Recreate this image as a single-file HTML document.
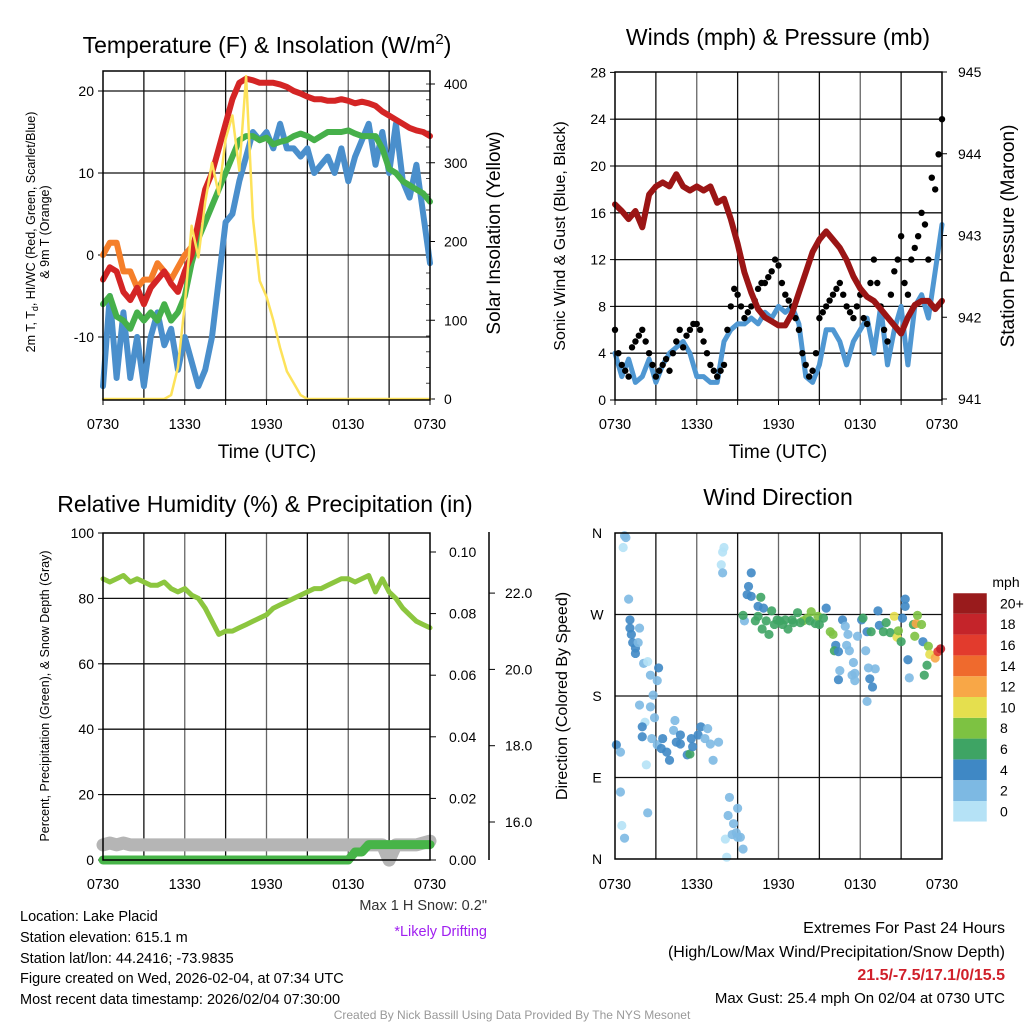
<!DOCTYPE html>
<html><head><meta charset="utf-8"><style>
html,body{margin:0;padding:0;background:#fff;}
svg{display:block;font-family:"Liberation Sans",Arial,sans-serif;}
</style></head><body>
<svg id="s" width="1024" height="1024" viewBox="0 0 1024 1024">
<g id="g1"></g>
<g id="g2"></g>
<g id="g3"></g>
<g id="g4"></g>
<g fill="#000">
<text x="267" y="53" font-size="23" text-anchor="middle">Temperature (F) &amp; Insolation (W/m<tspan dy="-9" font-size="15">2</tspan><tspan dy="9">)</tspan></text>
<text x="778" y="45" font-size="23" text-anchor="middle">Winds (mph) &amp; Pressure (mb)</text>
<text x="265" y="512" font-size="23" text-anchor="middle">Relative Humidity (%) &amp; Precipitation (in)</text>
<text x="778" y="505" font-size="23" text-anchor="middle">Wind Direction</text>
<text x="267" y="458" font-size="19" text-anchor="middle">Time (UTC)</text>
<text x="778" y="458" font-size="19" text-anchor="middle">Time (UTC)</text>
<text transform="translate(35,232) rotate(-90)" font-size="12.5" text-anchor="middle">2m T, T<tspan dy="3" font-size="9">d</tspan><tspan dy="-3">, HI/WC (Red, Green, Scarlet/Blue)</tspan></text>
<text transform="translate(49,232) rotate(-90)" font-size="12.5" text-anchor="middle">&amp; 9m T (Orange)</text>
<text transform="translate(500,233) rotate(-90)" font-size="19" text-anchor="middle">Solar Insolation (Yellow)</text>
<text transform="translate(565,236) rotate(-90)" font-size="16" text-anchor="middle">Sonic Wind &amp; Gust (Blue, Black)</text>
<text transform="translate(1014,236) rotate(-90)" font-size="19" text-anchor="middle">Station Pressure (Maroon)</text>
<text transform="translate(49,696) rotate(-90)" font-size="12.5" text-anchor="middle">Percent, Precipitation (Green), &amp; Snow Depth (Gray)</text>
<text transform="translate(567,696) rotate(-90)" font-size="16" text-anchor="middle">Direction (Colored By Speed)</text>
</g>
<g font-size="14.5" fill="#000">
<text x="20" y="921">Location: Lake Placid</text>
<text x="20" y="942">Station elevation: 615.1 m</text>
<text x="20" y="963">Station lat/lon: 44.2416; -73.9835</text>
<text x="20" y="983">Figure created on Wed, 2026-02-04, at 07:34 UTC</text>
<text x="20" y="1004">Most recent data timestamp: 2026/02/04 07:30:00</text>
<text x="487" y="910" text-anchor="end" fill="#333">Max 1 H Snow: 0.2"</text>
<text x="487" y="936" text-anchor="end" fill="#a020f0">*Likely Drifting</text>
<text x="1005" y="933" text-anchor="end" font-size="16">Extremes For Past 24 Hours</text>
<text x="1005" y="957" text-anchor="end" font-size="16">(High/Low/Max Wind/Precipitation/Snow Depth)</text>
<text x="1005" y="980" text-anchor="end" font-size="16" font-weight="bold" fill="#d0202a">21.5/-7.5/17.1/0/15.5</text>
<text x="1005" y="1003" text-anchor="end" font-size="15">Max Gust: 25.4 mph On 02/04 at 0730 UTC</text>
<text x="512" y="1019" text-anchor="middle" font-size="12" fill="#999">Created By Nick Bassill Using Data Provided By The NYS Mesonet</text>
</g>
</svg>
<script>
// ---- data (half-hourly, hours 0..24 from 0730 UTC) ----
const xTickLabels = ["0730","1330","1930","0130","0730"];
const tempRed = [-3,-1.5,-2,-4.5,-5.5,-4,-6,-4,-3,-2,-3.5,-4.5,-2,0,4,8,10,13,16,19,21,21.5,21.3,21,21,21,20.8,20.5,20,19.7,19.3,19,19,18.8,18.8,19,18.8,18.5,18.7,18.5,18.2,17.5,17,16.5,16,15.5,15.2,15,14.5];
const tempOrange = [0,1.5,1.5,-2,-2,-4,-3,-3,-1,-2,-3,-1.5,0,1];
const tempGreen = [-6,-5,-7.5,-8,-9,-7,-8,-7,-8,-6,-8,-7,-5,-1,2,4,6,8,10,12,14,14.5,14.5,14,14.3,13.5,13.8,14,14.5,14.8,14.5,14,14.5,15,15,15,15.2,14.8,14.5,14.5,14.5,13,10.5,10,9,8.5,8,7.5,6.5];
const tempBlue = [-16,-5,-15,-7,-15,-10,-16,-10,-7,-11,-9,-14,-10,-13,-16,-14,-10,-3,4,5,9,12,15,14,15,13,16,13,13,12,13,10,11,12,10,13,9,12,14,16,11,15,10,16,9,7,11,5,-1];
const solar = [0,0,0,0,0,0,0,0,0,0,5,40,120,220,180,250,300,260,330,360,290,410,230,150,130,100,65,35,20,5,0,0,0,0,0,0,0,0,0,0,0,0,0,0,0,0,0,0,0];
const leftTicksTemp = [20,10,0,-10];
const rightTicksSolar = [400,300,200,100,0];

const windSpeed = [4,2,3.5,1.5,2,3.5,1.5,3,4,4.5,5,4,2,2,1.5,1.5,5,6,6.5,6.5,7,6.5,7.5,7,8,7.5,8,6.5,2,1.5,3,6,6,5,3,5,6,7,4,8,3,6,8,3,8,9,7,11,15];
const windGust = [6,3,2,5,6,4,2,3,2.5,5,4.5,6,6.5,5,3,2,3,8,9,7,8,9.5,10,11,11.5,9,8,6,3,2.5,7,8,9,10,8,7,9,6.5,12,8,5,11,14,9,13,16,12,18,24];
const windGustQuarter = [4,2.5,4.5,5.5,5,3,2.5,3.5,4,6,5.5,6.5,6,4,2.5,2.5,6,9.5,8,7.5,8.5,10,10.5,12,10,8.5,7,4,2,4,7.5,8.5,9.5,9,7.5,8,7,10,10,6,9,12,10,12,14,15,19,21];
const pressure = [943.38,943.3,943.2,943.3,943.1,943.5,943.6,943.65,943.6,943.75,943.6,943.55,943.6,943.55,943.6,943.4,943.45,943.2,942.9,942.55,942.3,942.1,942.0,941.95,941.9,941.9,942.05,942.3,942.55,942.8,942.95,943.05,942.95,942.85,942.7,942.5,942.35,942.25,942.2,942.1,942.0,941.9,941.8,942.0,942.15,942.2,942.2,942.1,942.2];
const windTicks = [0,4,8,12,16,20,24,28];
const pressureTicks = [941,942,943,944,945];

const rh = [86,85,86,87,85,86,85,84,84,85,83,82,83,81,80,77,73,69,70,70,71,72,73,74,75,77,78,79,80,81,82,83,83,84,85,86,86,85,86,87,82,86,82,80,77,75,73,72,71];
const precip = [0,0,0,0,0,0,0,0,0,0,0,0,0,0,0,0,0,0,0,0,0,0,0,0,0,0,0,0,0,0,0,0,0,0,0,0,0,0.0026,0.0026,0.005,0.005,0.005,0.005,0.005,0.005,0.005,0.005,0.005,0.005];
const snow = [15.4,15.45,15.4,15.45,15.4,15.4,15.4,15.4,15.4,15.4,15.4,15.4,15.4,15.4,15.4,15.4,15.4,15.4,15.4,15.4,15.4,15.4,15.4,15.4,15.4,15.4,15.4,15.4,15.4,15.4,15.4,15.4,15.4,15.4,15.4,15.4,15.4,15.4,15.4,15.4,15.4,15.4,15.0,15.4,15.4,15.4,15.4,15.45,15.5];
const rhTicks = [0,20,40,60,80,100];
const precipTicks = ["0.00","0.02","0.04","0.06","0.08","0.10"];
const snowTicks = ["16.0","18.0","20.0","22.0"];

const dirHours = [0.7,0.8,0.6,1.0,1.1,1.1,1.2,1.3,1.5,1.5,1.8,1.7,2.1,2.4,2.6,3.2,3.1,2.8,1.8,2.6,2.9,2.2,0.1,0.4,2.0,2.0,2.7,3.1,3.4,3.8,4.0,4.4,4.3,4.8,4.8,5.3,5.5,5.7,6.1,6.3,6.8,6.6,7.0,7.6,7.2,2.3,3.5,4.5,5.6,0.4,2.4,0.5,0.7,
8.4,9.0,8.3,8.7,8.9,9.2,8.1,9.4,8.2,8.6,9.0,8.0,7.9,7.8,7.9,
10.0,9.8,9.7,10.0,10.5,10.9,10.7,9.5,
9.4,10.3,10.8,11.3,11.5,11.7,12.1,12.5,12.7,13.1,13.4,13.8,14.1,14.4,14.7,14.9,15.3,15.5,15.8,16.0,10.5,11.1,11.9,12.3,13.0,13.6,14.3,15.0,
16.7,16.9,17.1,17.8,18.1,18.2,18.5,18.8,19.3,19.4,19.7,19.9,20.2,20.5,20.7,20.8,21.0,21.1,21.3,21.3,21.9,22.0,22.1,22.2,22.5,22.6,23.0,23.1,23.5,23.7,23.9,22.9,22.7,21.5,21.6,16.2,16.1,16.4,17.0,17.2,17.5,16.5,16.4,17.6,17.6,17.4,18.4,18.6,19.1,18.7,18.9,18.5];
const dirDegrees = [357,355,344,287,264,255,248,239,233,227,255,239,216,218,203,211,197,181,170,168,156,151,126,118,146,135,133,126,122,118,109,153,142,137,127,115,116,124,137,146,144,133,127,129,109,104,133,129,133,74,51,37,23,
68,56,48,39,29,24,22,11,2,27,24,344,339,325,316,
316,301,292,290,279,277,289,263,
269,263,254,248,274,259,263,264,254,261,272,263,266,273,260,268,266,277,251,248,268,263,264,259,264,261,263,259,
264,257,248,246,264,266,251,251,274,258,251,261,250,268,245,252,240,266,287,279,259,246,260,269,259,240,235,226,222,229,232,214,203,220,200,236,230,229,236,230,217,208,198,205,197,203,230,211,210,199,190,174];
const dirSpeeds = [1,2,0,2,4,4,4,4,4,4,2,2,1,0,2,3,2,1,2,2,1,0,4,2,4,4,2,2,3,4,4,2,2,4,4,4,6,4,4,4,1,2,2,2,2,0,3,4,3,2,1,0,1,
1,1,2,1,2,2,0,2,0,2,2,0,0,0,1,
4,4,4,4,4,4,6,1,
6,6,6,6,6,6,6,6,6,6,6,7,7,7,6,7,6,4,7,7,6,6,6,6,6,6,6,6,
3,1,2,2,4,6,4,6,4,4,6,6,6,10,10,8,6,4,4,4,6,8,12,8,8,4,8,10,12,16,18,6,6,4,2,4,6,4,2,1,2,2,4,2,2,1,2,2,2,4,4,2];
const dirTickLabels = ["N","E","S","W","N"];
const speedBinLabels = ["0","2","4","6","8","10","12","14","16","18","20+"];

// ---- helpers ----
const NS="http://www.w3.org/2000/svg";
function mk(parent,tag,attrs){const e=document.createElementNS(NS,tag);for(const k in attrs)e.setAttribute(k,attrs[k]);parent.appendChild(e);return e;}
function txt(parent,x,y,s,size,anchor){const t=mk(parent,'text',{x:x,y:y,'font-size':size,'text-anchor':anchor||'middle'});t.textContent=s;


return t;}
const binColors=["#b5e2f6","#7db9e3","#3f88c5","#3ea464","#7dc242","#e5df4e","#f8a747","#ef6a2d","#e23b2d","#c4242a","#991b1c"];
function colorFor(v){let i=Math.min(10,Math.max(0,Math.round(v/2)));return binColors[i];}

function panel(g,L,T,R,B,leftTicks,yL,yLabelFn){
  const xs=h=>L+h/24*(R-L);
  for(let i=1;i<8;i++){const x=xs(i*3);const ln=mk(g,'line',{x1:x,y1:T,x2:x,y2:B,stroke:i%2?'#111':'#666','stroke-width':1.3});
    
    }
  leftTicks.forEach(v=>{const y=yL(v);if(y>T+1&&y<B-1){const ln=mk(g,'line',{x1:L,y1:y,x2:R,y2:y,stroke:'#111','stroke-width':1.3});
    
    }
    mk(g,'line',{x1:L-5,y1:y,x2:L,y2:y,stroke:'#000'});
    txt(g,L-9,y+5,yLabelFn(v),14,'end');});
  xTickLabels.forEach((s,i)=>{const x=xs(i*6);txt(g,x,429,s,14.5);});
  for(let i=0;i<=8;i++){mk(g,'line',{x1:xs(i*3),y1:B,x2:xs(i*3),y2:B+5,stroke:'#000'});}
  return xs;
}
function border(g,L,T,R,B){const r=mk(g,'rect',{x:L,y:T,width:R-L,height:B-T,fill:'none',stroke:'#000','stroke-width':1.5});
  
  }
function line(g,xs,ys,arr,color,w,name){let d='';arr.forEach((v,i)=>{if(v==null)return;d+=(d?'L':'M')+xs(i*0.5).toFixed(1)+','+ys(v).toFixed(1);});
  const p=mk(g,'path',{d:d,fill:'none',stroke:color,'stroke-width':w,'stroke-linejoin':'round','stroke-linecap':'round'});
  
  
  return p;}

// ---- panel 1 ----
(function(){
  const g=document.getElementById('g1');const L=103,T=71,R=430,B=400;
  const yT=v=>255-8.2*v; const yS=v=>399-0.7875*v;
  const xs=panel(g,L,T,R,B,leftTicksTemp,yT,v=>String(v));
  rightTicksSolar.forEach(v=>{const y=yS(v);mk(g,'line',{x1:R,y1:y,x2:R+5,y2:y,stroke:'#000'});txt(g,R+14,y+5,String(v),14,'start');});
  for(let v=20;v<420;v+=20){mk(g,'line',{x1:R-4,y1:yS(v),x2:R,y2:yS(v),stroke:'#444'});}
  line(g,xs,yT,tempOrange,'#f57f2a',6,'series-9m-temp');
  line(g,xs,yT,tempBlue,'#4a8fcc',6,'series-wind-chill');
  line(g,xs,yT,tempGreen,'#46b04a',6,'series-dewpoint');
  line(g,xs,yT,tempRed,'#d42525',6,'series-temperature');
  line(g,xs,yS,solar,'#fde25a',2.5,'series-solar');
  border(g,L,T,R,B);
})();

// ---- panel 2 ----
(function(){
  const g=document.getElementById('g2');const L=615,T=72,R=942,B=400;
  const yW=v=>400-11.7*v; const yP=v=>399-(v-941)*81.75;
  const xs=panel(g,L,T,R,B,windTicks,yW,v=>String(v));
  pressureTicks.forEach(v=>{const y=yP(v);mk(g,'line',{x1:R,y1:y,x2:R+5,y2:y,stroke:'#000'});txt(g,R+16,y+5,String(v),14,'start');});
  line(g,xs,yW,windSpeed,'#4f97d2',5,'series-wind-speed');
  windGust.forEach((v,i)=>{const c=mk(g,'circle',{cx:xs(i*0.5),cy:yW(v),r:3.2,fill:'#000'});
    
    });
  windGustQuarter.forEach((v,i)=>{const c=mk(g,'circle',{cx:xs(i*0.5+0.25),cy:yW(v),r:3.2,fill:'#000'});
    
    });
  line(g,xs,yP,pressure,'#9b1515',6,'series-pressure');
  border(g,L,T,R,B);
})();

// ---- panel 3 ----
(function(){
  const g=document.getElementById('g3');const L=103,T=533,R=430,B=860;
  const yR=v=>860-3.27*v; const yPr=v=>860-3080*v; const yS=v=>822-(v-16)*38.15;
  const xs=h=>L+h/24*(R-L);
  for(let i=1;i<8;i++){const x=xs(i*3);mk(g,'line',{x1:x,y1:T,x2:x,y2:B,stroke:i%2?'#111':'#666','stroke-width':1.3});}
  rhTicks.forEach(v=>{const y=yR(v);if(y>T+1&&y<B-1)mk(g,'line',{x1:L,y1:y,x2:R,y2:y,stroke:'#111','stroke-width':1.3});mk(g,'line',{x1:L-5,y1:y,x2:L,y2:y,stroke:'#000'});txt(g,L-9,y+5,String(v),14,'end');});
  xTickLabels.forEach((s,i)=>{txt(g,xs(i*6),889,s,14.5);});
  precipTicks.forEach(s=>{const y=yPr(parseFloat(s));mk(g,'line',{x1:R,y1:y,x2:R+6,y2:y,stroke:'#000'});txt(g,R+19,y+5,s,14,'start');});
  const ax=mk(g,'line',{x1:489,y1:532,x2:489,y2:860,stroke:'#000','stroke-width':1.5});
  
  
  snowTicks.forEach(s=>{const y=yS(parseFloat(s));mk(g,'line',{x1:489,y1:y,x2:495,y2:y,stroke:'#000'});txt(g,505,y+5,s,14,'start');});
  line(g,xs,yR,rh,'#8cc63f',5,'series-humidity');
  line(g,xs,yS,snow,'#b5b5b5',13,'series-snow-depth');
  line(g,xs,yPr,precip,'#47b448',9,'series-precip');
  border(g,L,T,R,B);
})();

// ---- panel 4 ----
(function(){
  const g=document.getElementById('g4');const L=615,T=533,R=942,B=859;
  const yD=v=>B-v/360*(B-T);
  const xs=h=>L+h/24*(R-L);
  for(let i=1;i<8;i++){const x=xs(i*3);mk(g,'line',{x1:x,y1:T,x2:x,y2:B,stroke:i%2?'#111':'#666','stroke-width':1.3});}
  dirTickLabels.forEach((s,i)=>{const y=yD(i*90);if(i>0&&i<4)mk(g,'line',{x1:L,y1:y,x2:R,y2:y,stroke:'#111','stroke-width':1.3});txt(g,L-18,y+5,s,14,'middle');});
  xTickLabels.forEach((s,i)=>{txt(g,xs(i*6),889,s,14.5);});
  dirHours.forEach((h,i)=>{const c=mk(g,'circle',{cx:xs(h),cy:yD(dirDegrees[i]),r:4.6,fill:colorFor(dirSpeeds[i]),'fill-opacity':0.9});
    
    });
  border(g,L,T,R,B);
  const cb=mk(g,'g',{});
  
  
  const top=593,bh=20.8;
  speedBinLabels.forEach((s,i)=>{const y=top+(10-i)*bh;mk(cb,'rect',{x:953,y:y,width:34,height:bh,fill:binColors[i]});txt(cb,1000,y+bh/2+5,s,14,'start');});
  mk(cb,'rect',{x:953,y:top,width:34,height:bh*11,fill:'none',stroke:'#fff','stroke-width':0.5});
  txt(cb,1006,587,'mph',14,'middle');
})();
</script>
</body></html>
